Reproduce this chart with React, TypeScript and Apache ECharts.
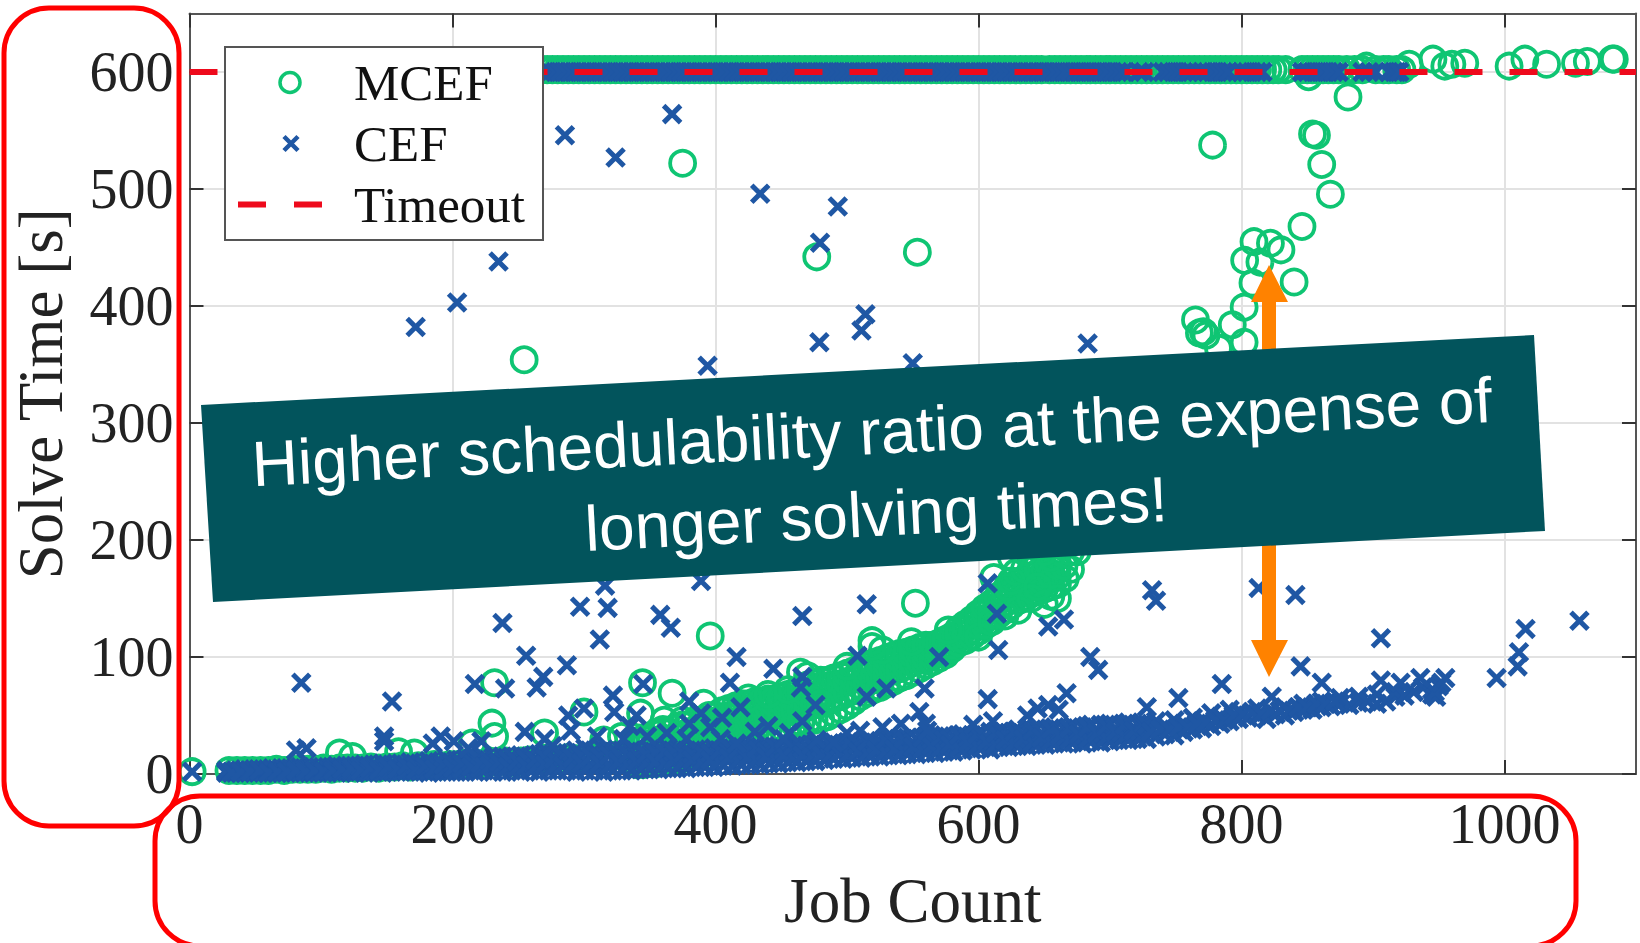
import React, { useEffect, useRef } from "react";
import * as echarts from "echarts";

const xTicks = [0, 200, 400, 600, 800, 1000];
const yTicks = [0, 100, 200, 300, 400, 500, 600];
const timeoutLine = [[0, 600], [1100, 600]];

const cefBandX = [28,35,42,49,56,63,70,77,84,91,98,105,112,119,126,133,140,147,154,161,168,175,182,189,196,203,210,217,224,231,238,245,252,259,266,273,280,287,294,301,308,315,322,329,336,343,350,357,364,371,378,385,392,399,406,413,420,427,434,441,448,455,462,469,476,483,490,497,504,511,518,525,532,539,546,553,560,567,574,581,588,595,602,609,616,623,630,637,644,651,658,665,672,679,686,693,700,707,714,721];
const cefBandLow = [1,1,1,1,1,1,1,1,1,1,1,1,1,2,1,1,2,1,2,2,2,2,1,2,2,2,2,2,3,2,2,3,2,3,2,3,3,3,2,3,3,2,3,3,3,4,4,4,5,5,5,6,6,6,7,7,8,8,8,9,9,10,10,11,11,12,13,13,14,14,15,15,16,16,17,17,18,18,19,19,20,21,22,21,23,23,24,24,25,25,26,26,27,26,28,27,28,29,29,30];
const cefBandMid = [2,2,2,3,2,3,2,3,3,3,3,3,4,3,4,4,4,5,4,5,5,6,5,6,7,7,6,8,7,8,8,9,9,8,10,9,11,10,11,12,11,12,12,13,13,12,14,13,14,14,14,15,14,15,15,16,16,15,17,16,17,17,18,18,19,19,20,20,21,20,21,22,22,22,23,23,24,24,25,25,26,26,27,27,28,28,29,28,30,30,31,31,32,32,33,33,34,34,35,35];
const cefBandHigh = [3,3,4,4,4,5,5,5,6,6,6,6,7,7,7,8,8,9,8,9,10,9,11,10,12,12,13,12,14,14,15,15,16,15,17,17,18,18,20,22,20,21,19,20,20,19,21,20,22,21,20,21,20,22,21,22,23,22,23,22,24,23,25,24,26,25,27,26,28,27,29,28,30,30,31,30,32,32,33,32,34,33,35,36,36,35,38,36,39,38,40,39,41,40,42,42,43,42,44,43];
const cefBandX2 = [32,39,46,53,60,67,74,81,88,95,102,109,116,123,130,137,144,151,158,165,172,179,186,193,200,207,214,221,228,235,242,249,256,263,270,277,284,291,298,305,312,319,326,333,340,347,354,361,368,375,382,389,396,403,410,417,424,431,438,445,452,459,466,473,480,487,494,501,508,515,522,529,536,543,550,557,564,571,578,585,592,599,606,613,620,627,634,641,648,655,662,669,676,683,690,697,704,711,718,725];
const cefBandY2 = [2,1,3,2,2,1,3,2,4,2,3,5,2,3,6,2,5,3,6,3,7,4,8,3,9,4,10,5,11,6,12,5,13,6,14,6,15,7,16,8,15,7,17,8,16,9,18,9,19,10,17,10,18,11,19,11,20,12,19,13,20,14,22,15,23,16,24,17,25,18,26,19,27,20,27,21,29,22,30,22,31,24,32,25,33,26,34,27,35,28,36,29,37,30,38,31,39,32,40,33];
const cefBandY3 = [1,2,2,3,1,2,2,3,2,3,2,3,4,5,3,5,3,6,4,7,3,7,4,8,5,9,6,9,7,10,6,11,7,12,8,13,7,14,9,15,9,16,10,17,11,17,10,19,12,18,12,19,12,20,14,21,14,22,15,23,16,24,16,25,17,26,18,27,19,28,20,29,21,30,23,31,24,32,25,33,27,34,28,35,29,36,30,37,31,38,33,39,34,40,35,41,36,42,37,43];
const cefTail = [[728,30],[728,42],[735,32],[735,45],[742,34],[742,41],[749,33],[749,46],[756,36],[756,43],[763,38],[763,48],[770,39],[770,45],[777,41],[777,52],[784,43],[784,49],[791,45],[791,55],[798,47],[798,53],[805,48],[812,50],[812,56],[819,47],[826,51],[833,50],[833,57],[840,53],[847,55],[847,60],[854,55],[861,57],[861,62],[868,58],[875,60],[875,65],[882,59],[889,61],[889,66],[896,62],[903,60],[903,68],[910,62],[917,66],[917,70],[924,67],[931,70],[938,74],[945,72],[945,68],[948,66],[950,75],[947,70],[952,78],[731,36],[738,38],[745,38],[752,40],[759,40],[766,43],[773,44],[780,46],[787,46],[794,50],[801,51],[808,53],[815,51],[822,54],[829,54],[836,54],[843,57],[850,57],[857,60],[864,60],[871,62]];
const cefScatter = [[2,2],[367,564],[285.5,546],[324,527],[434,496],[493,485],[479.5,454],[235,438],[203.5,403],[172,382],[514,393],[511,379],[479,369],[394,349],[550,351],[683,368],[85,78],[154,62],[81,20],[89,22],[148,28],[148,32],[191,32],[201,28],[185,26],[217,77],[240,73],[256,101],[264,74],[269,83],[287,93],[238,129],[297,143],[318,142],[312,115],[316,161],[358,136],[366,125],[389,165],[322,67],[323,53],[345,77],[340,50],[255,36],[288,50],[300,56],[290,37],[310,32],[348,32],[363,35],[380,62],[380,43],[389,52],[416,100],[411,78],[444,90],[419,57],[405,48],[396,40],[466,135],[515,145],[466,83],[465,74],[476,59],[466,45],[456,35],[508,101],[515,66],[530,73],[559,73],[570,100],[555,53],[560,43],[607,163],[614,137],[615,106],[607,64],[653,126],[665,132],[732,157],[735,148],[685,100],[691,89],[667,69],[611,45],[637,50],[645,56],[653,59],[661,55],[596,42],[728,57],[752,65],[527,40],[541,43],[510,37],[500,35],[561,37],[477,29],[490,27],[813,159],[841,153],[845,92],[906,116],[785,77],[823,66],[861,78],[906,80],[921,78],[936,82],[955,82],[994,82],[1010,92],[1011,104],[1016,124],[1057,131],[430,36],[440,41],[452,30],[404,30],[416,26],[378,30],[330,30],[335,41],[270,30],[276,24],[222,28],[212,22]];
const cefTopX = [270,274,278,282,286,290,294,298,302,306,310,314,318,322,326,330,334,338,342,346,350,354,358,362,366,370,374,378,382,386,390,394,398,402,406,410,414,418,422,426,430,434,438,442,446,450,454,458,462,466,470,474,478,482,486,490,494,498,502,506,510,514,518,522,526,530,534,538,542,546,550,554,558,562,566,570,574,578,582,586,590,594,598,602,606,610,614,618,622,626,630,634,638,642,646,650,654,658,662,666,670,674,678,682,686,690,694,698,702,706,710,722,726,740,744,748,752,756,760,770,774,778,782,786,790,800,804,808,812,816,846,850,854,858,862,866,870,874,892,897,902,912,916,918,920];

const mcefLowX = [30,36,42,48,54,60,66,72,78,84,90,96,102,108,114,120,126,132,138,144,150,156,162,168,174,180,186,192,198,204,210,216,222,228,234,240,246,252,258,264,270,276,282,288,294,300,306,312,318,324,330,336];
const mcefLowY = [3,3,3,3,3,3,4,3,4,4,4,4,5,4,5,5,5,5,6,5,6,6,7,6,7,7,8,7,8,8,9,9,9,10,10,11,10,11,12,11,12,13,12,14,13,14,14,15,15,16,15,16];
const mcefSwathX = [340,345,350,355,360,365,370,375,380,385,390,395,400,405,410,415,420,425,430,435,440,445,450,455,460,465,470,475,480,485,490,495,500,505,510,515,520,525,530,535,540,545,550,555,560,565,570,575,580,585,590,595,600,605,610,615,620,625,630,635,640,645,650,655,660];
const mcefSwathLow = [8,8,9,9,10,11,12,13,14,15,17,19,21,23,26,28,30,31,33,35,37,39,40,41,43,44,45,46,47,49,52,55,58,62,66,69,72,74,77,79,82,84,87,90,93,96,99,102,107,112,114,118,122,127,131,136,140,144,148,151,154,156,158,160,162];
const mcefSwathMid = [14,17,18,20,21,22,23,25,26,27,29,31,33,36,38,40,42,44,45,47,48,50,51,53,54,55,57,59,61,62,64,66,69,71,75,78,81,83,86,88,90,92,95,97,99,101,104,106,110,116,119,123,127,132,136,142,146,150,154,157,160,162,164,166,169];
const mcefSwathHigh = [22,24,26,28,30,30,32,34,36,38,40,42,45,48,50,52,54,56,57,58,58,60,62,63,64,66,68,72,74,75,76,77,79,81,84,86,90,92,94,96,98,100,102,104,105,106,108,110,114,120,124,128,132,138,142,148,152,156,160,162,165,167,169,172,176];
const mcefSwathTop = [28,30,30,34,36,36,40,42,42,46,46,50,50,54,56,58,60,60,62,62,64,64,66,68,70,72,76,78,80,80,82,84,86,88,90,92,95,97,99,101,103,104,106,108,110,110,112,115,118,124,128,132,137,142,146,152,156,160,164,166,169,171,173,176,180];
const mcefScatter = [[2,2],[254.5,354],[375,522],[477,442],[553.5,446],[552,146],[396,118],[778,537.5],[881,578.6],[854,547],[857,546],[861,521],[867.6,495.5],[846,468],[840,420.5],[830,448],[822,453.6],[809.5,455],[802.4,439],[814,437.5],[808.7,419.6],[802,399],[793,384],[802,369],[765,388],[768,377],[773,375],[771,378],[782.5,364],[232,78],[230,43.5],[232,32],[215,26.5],[114,18],[124,15],[159,19],[171,18],[270,35],[300,53],[344.5,78],[343,52],[367,69],[391,60.5],[361,46],[328.5,32],[315,29],[519,114],[527,106],[519,109],[549,113],[464.6,87],[600,117],[577,123],[611.6,168],[648,162.6],[666,167],[650,165],[629,172.6],[640,175],[660,178],[622,160],[635,150],[655,152],[670,175],[675,190],[690,210],[700,230],[715,260],[730,290],[745,320],[755,345],[833.6,602],[851,596],[895,605],[927.5,606.6],[945.6,611],[954.6,605],[960,606.6],[969.8,607.5],[1003.5,605],[1015.5,611],[1032,606.6],[1054,607.5],[1063,609],[1082,611],[1083.5,611],[610,130],[615,150],[620,135],[625,165],[630,140],[635,175],[640,150],[645,178],[650,145],[655,170],[660,150],[665,178],[670,190],[645,160],[650,190],[635,190],[625,185],[655,185],[425,65],[440,68],[455,72],[470,84],[480,60],[500,92],[360,38],[375,46],[410,38]];
const mcefTopX = [268,272,276,280,284,288,292,296,300,304,308,312,316,320,324,328,332,336,340,344,348,352,356,360,364,368,372,376,380,384,388,392,396,400,404,408,412,416,420,424,428,432,436,440,444,448,452,456,460,464,468,472,476,480,484,488,492,496,500,504,508,512,516,520,524,528,532,536,540,544,548,552,556,560,564,568,572,576,580,584,588,592,596,600,604,608,612,616,620,624,628,632,636,640,644,648,654,658,662,666,670,674,678,682,685,689,693,697,700,704,708,712,716,720,724,728,732,736,740,744,748,752,756,760,764,768,772,776,780,784,788,792,796,800,804,808,812,816,820,824,828,846,850,854,858,862,866,870,874,880,886,892,902,908,912,918,922];

const COLOR_MCEF = "#0fc573";
const COLOR_CEF = "#1f57a4";
const COLOR_RED = "#ee0a1c";
const CROSS = "path://M0,0L10,10M10,0L0,10";
const LEGEND_CIRCLE = "path://M0,0L0,0M42,12A10,10 0 1 1 62,12A10,10 0 1 1 42,12ZM84,24L84,24";
const LEGEND_CROSS = "path://M0,0L0,0M46,5L60,19M60,5L46,19M84,24L84,24";

const cefData: number[][] = [
  ...cefBandX.flatMap((x, i) => [[x, cefBandLow[i]], [x, cefBandMid[i]], [x, cefBandHigh[i]]]),
  ...cefBandX2.flatMap((x, i) => [[x, cefBandY2[i]], [x, cefBandY3[i]]]),
  ...cefTail,
  ...cefScatter,
  ...cefTopX.map((x) => [x, 600]),
];
const mcefData: number[][] = [
  ...mcefLowX.map((x, i) => [x, mcefLowY[i]]),
  ...mcefSwathX.flatMap((x, i) => [[x, mcefSwathLow[i]], [x, mcefSwathMid[i]], [x, mcefSwathHigh[i]], [x, mcefSwathTop[i]]]),
  ...mcefScatter,
  ...mcefTopX.map((x) => [x, 602]),
];

const serif = '"Liberation Serif", serif';
const tickColor = "#222";

export default function App() {
  const ref = useRef<HTMLDivElement>(null);
  useEffect(() => {
    document.body.style.margin = "0";
    const chart = echarts.init(ref.current!, null, { renderer: "svg" });
    const axisCommon = {
      axisLine: { show: true, onZero: false, lineStyle: { color: "#555", width: 2 } },
      axisTick: { show: true, inside: true, length: 14, lineStyle: { color: "#333", width: 2 } },
    };
    chart.setOption({
      animation: false,
      backgroundColor: "#fff",
      grid: { left: 189.5, top: 13.5, width: 1446.5, height: 760.5, show: false, outerBoundsMode: "none" },
      xAxis: [
        {
          ...axisCommon, type: "value", min: 0, max: 1100, position: "bottom",
          axisTick: { ...axisCommon.axisTick, customValues: xTicks },
          axisLabel: { customValues: xTicks, formatter: (v: number) => String(v), color: tickColor, fontFamily: serif, fontSize: 56, margin: 22 },
          splitLine: { show: true, lineStyle: { color: "#e2e2e2", width: 2 } },
          name: "Job Count", nameLocation: "middle", nameGap: 95,
          nameTextStyle: { color: tickColor, fontFamily: serif, fontSize: 63 },
        },
        {
          ...axisCommon, type: "value", min: 0, max: 1100, position: "top",
          axisTick: { ...axisCommon.axisTick, customValues: xTicks },
          axisLabel: { show: false, customValues: xTicks }, splitLine: { show: false },
        },
      ],
      yAxis: [
        {
          ...axisCommon, type: "value", min: 0, max: 650, position: "left",
          axisTick: { ...axisCommon.axisTick, customValues: yTicks },
          axisLabel: { customValues: yTicks, color: tickColor, fontFamily: serif, fontSize: 56, margin: 16 },
          splitLine: { show: true, lineStyle: { color: "#e2e2e2", width: 2 } },
          name: "Solve Time [s]", nameLocation: "middle", nameGap: 117, nameRotate: 90,
          nameTextStyle: { color: tickColor, fontFamily: serif, fontSize: 63 },
        },
        {
          ...axisCommon, type: "value", min: 0, max: 650, position: "right",
          axisTick: { ...axisCommon.axisTick, customValues: yTicks },
          axisLabel: { show: false, customValues: yTicks }, splitLine: { show: false },
        },
      ],
      legend: {
        left: 225, top: 47, orient: "vertical", selectedMode: false,
        backgroundColor: "#fff", borderColor: "#555", borderWidth: 2, borderRadius: 0,
        padding: [10, 18, 10, 10], itemWidth: 84, itemHeight: 24, itemGap: 10, symbolKeepAspect: false,
        textStyle: { color: "#111", fontFamily: serif, fontSize: 51, padding: [0, 0, 0, 27] },
        data: [
          { name: "MCEF", icon: LEGEND_CIRCLE, itemStyle: { color: "transparent", borderColor: COLOR_MCEF, borderWidth: 3.5 } },
          { name: "CEF", icon: LEGEND_CROSS, itemStyle: { color: "transparent", borderColor: COLOR_CEF, borderWidth: 4.5 } },
          {
            name: "Timeout",
            itemStyle: { color: "transparent", borderColor: "transparent", borderWidth: 0 },
            lineStyle: { color: COLOR_RED, width: 6, type: [28, 28] },
          },
        ],
        z: 20,
      },
      series: [
        {
          name: "MCEF", type: "scatter", data: mcefData, symbol: "circle", symbolSize: 25, z: 2,
          itemStyle: { color: "transparent", borderColor: COLOR_MCEF, borderWidth: 3.8, opacity: 1 },
        },
        {
          name: "CEF", type: "scatter", data: cefData, symbol: CROSS, symbolSize: 17, z: 3,
          itemStyle: { color: "transparent", borderColor: COLOR_CEF, borderWidth: 5, opacity: 1 },
        },
        {
          name: "Timeout", type: "line", data: timeoutLine, symbol: "none", z: 4,
          lineStyle: { color: COLOR_RED, width: 6, type: [28, 27] },
          itemStyle: { color: COLOR_RED },
        },
      ],
      graphic: [
        { type: "polygon", z: 50, shape: { points: [[1269, 265], [1288, 302], [1276, 302], [1276, 640], [1288, 640], [1269, 677], [1251, 640], [1262, 640], [1262, 302], [1251, 302]] }, style: { fill: "#ff8200" } },
        { type: "polygon", z: 51, shape: { points: [[201, 405], [1534, 335], [1545, 531], [213, 602]] }, style: { fill: "#02545c" } },
        {
          type: "text", z: 52, x: 874, y: 473, rotation: 0.052,
          style: { text: "Higher schedulability ratio at the expense of\nlonger solving times!", fill: "#fff", font: '64px "Liberation Sans", Arial, sans-serif', align: "center", verticalAlign: "middle", lineHeight: 82 },
        },
        { type: "rect", z: 53, shape: { x: 4, y: 8, width: 175, height: 818, r: 45 }, style: { fill: "none", stroke: "#ff0000", lineWidth: 5 } },
        { type: "rect", z: 53, shape: { x: 155, y: 796, width: 1421, height: 150, r: 45 }, style: { fill: "none", stroke: "#ff0000", lineWidth: 5 } },
      ],
    });
    return () => chart.dispose();
  }, []);
  return <div ref={ref} style={{ width: 1640, height: 943, overflow: "hidden" }} />;
}
